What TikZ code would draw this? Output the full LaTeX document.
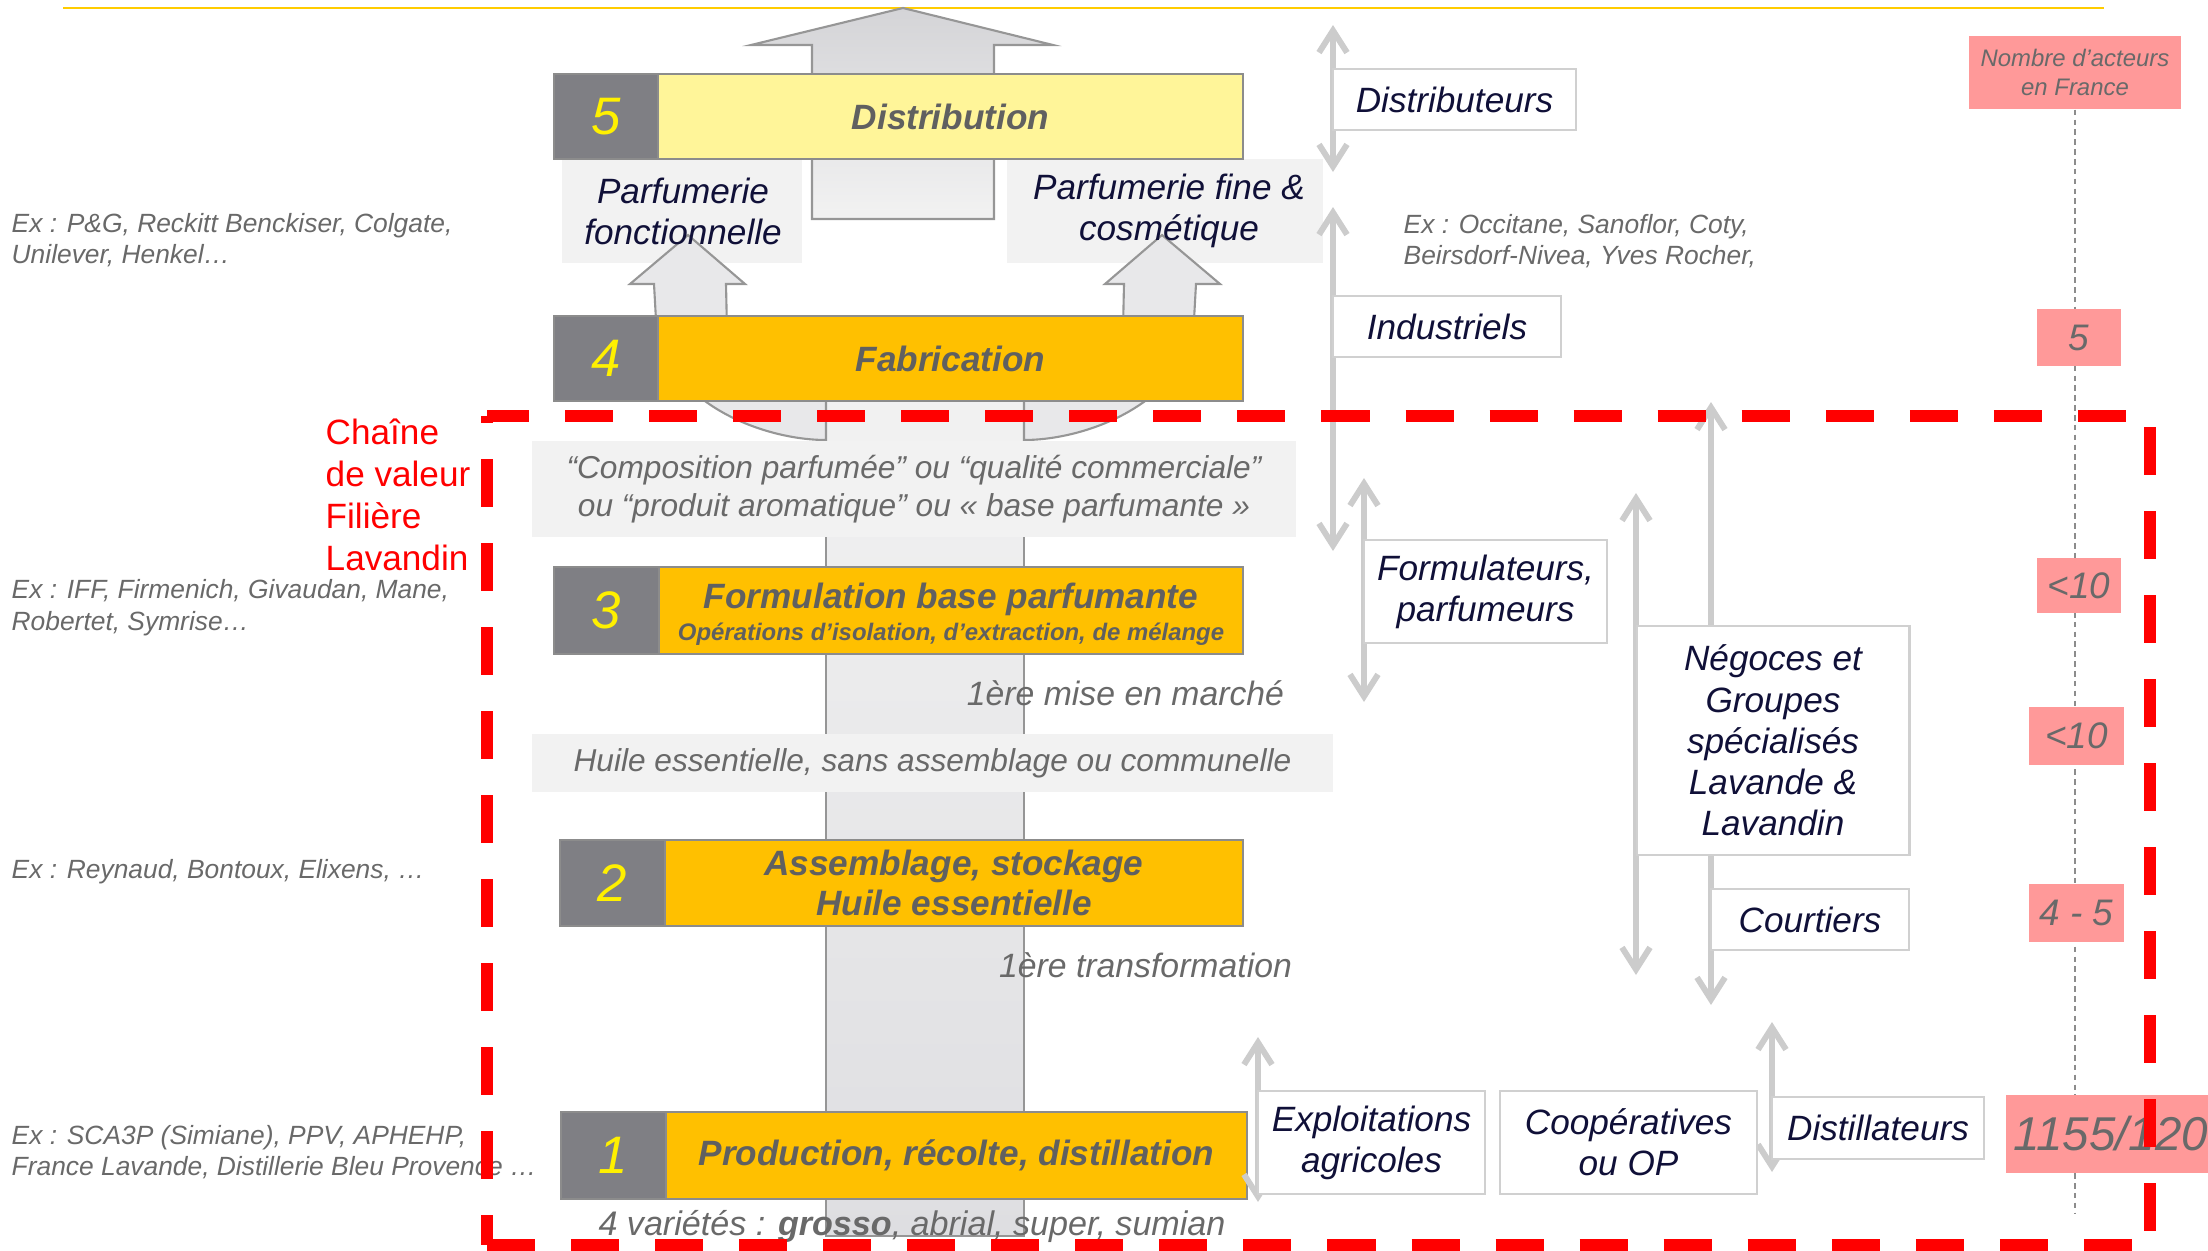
\documentclass[tikz,border=0pt]{standalone}
\usepackage{fontspec}
\setmainfont{Liberation Sans}
\usepackage{xcolor}
\usetikzlibrary{arrows.meta}

\definecolor{topyellow}{RGB}{255,204,0}
\definecolor{stageorange}{RGB}{255,192,0}
\definecolor{stageyellow}{RGB}{255,245,153}
\definecolor{numgray}{RGB}{127,127,132}
\definecolor{digityellow}{RGB}{255,240,0}
\definecolor{labelgray}{RGB}{96,96,96}
\definecolor{notegray}{RGB}{105,105,105}
\definecolor{paleback}{RGB}{242,242,242}
\definecolor{actornavy}{RGB}{16,16,56}
\definecolor{actorline}{RGB}{208,208,208}
\definecolor{flowline}{RGB}{204,204,204}
\definecolor{countpink}{RGB}{255,153,153}
\definecolor{arrowedge}{RGB}{150,150,150}
\definecolor{boxedge}{RGB}{140,140,140}
\definecolor{chainred}{RGB}{255,0,0}
\definecolor{flowlight}{RGB}{242,242,242}
\definecolor{flowmid}{RGB}{222,222,225}
\definecolor{flowdark}{RGB}{212,212,215}

\begin{document}
\begin{tikzpicture}[x=0.01cm, y=-0.01cm,
    paleband/.style={fill=paleback, inner sep=0pt},
    navytext/.style={text=actornavy, font=\fontsize{10}{11.7}\selectfont\itshape, align=center, inner sep=0pt},
    actor/.style={navytext, draw=actorline, fill=white, line width=0.8pt},
    numsq/.style={fill=numgray, draw=boxedge, line width=0.5pt, inner sep=0pt, text=digityellow, font=\fontsize{15}{18}\selectfont\itshape},
    stagebox/.style={draw=boxedge, line width=0.5pt, inner sep=0pt, text=labelgray, font=\fontsize{10}{11.4}\selectfont\bfseries\itshape, align=center},
    graynote/.style={text=notegray, font=\fontsize{9}{10.8}\selectfont\itshape, inner sep=0pt, align=center},
    exnote/.style={text=notegray, font=\fontsize{7.5}{9}\selectfont\itshape, align=left, anchor=west, inner sep=0pt},
    countbox/.style={fill=countpink, inner sep=0pt, text=notegray, font=\fontsize{10.5}{12}\selectfont\itshape},
    flow/.style={draw=flowline, line width=1.7pt, >={Straight Barb[length=2.2mm,width=2.8mm]}, <->},
    bigarrow/.style={draw=arrowedge, line width=0.6pt},
    redframe/.style={draw=chainred, line width=3.3pt, dash pattern=on 0.48cm off 0.36cm}
]
\clip (0,0) rectangle (2208,1251);

% === TOP RULE ===
\draw[topyellow, line width=0.85pt] (63,8) -- (2104,8);

% === PALE BACKGROUNDS UNDER STAGE 5 ===
\node[paleband, minimum width=2.40cm, minimum height=1.04cm] (pfoncbg) at (682,211) {};
\node[paleband, minimum width=3.16cm, minimum height=1.04cm] (pfinebg) at (1165,211) {};

% === BIG GRAY FLOW ARROWS ===
\draw[bigarrow, top color=flowdark, bottom color=flowlight] (812,219) -- (812,45) -- (751,45) -- (903,8) -- (1053,45) -- (994,45) -- (994,219) -- cycle;
\draw[bigarrow, top color=flowlight, bottom color=flowmid] (826,380) rectangle (1024,1236);
% left branch, then the same shape mirrored
\draw[bigarrow, fill=flowmid!70!white] (688,235) -- (745,284) -- (726,284) -- (727,330) .. controls (730,372) and (775,388) .. (826,388) -- (826,440) .. controls (760,440) and (662,400) .. (656,320) -- (654,284) -- (630,284) -- cycle;
\begin{scope}[shift={(1850,0)}, xscale=-1]
\draw[bigarrow, fill=flowmid!70!white] (688,235) -- (745,284) -- (726,284) -- (727,330) .. controls (730,372) and (775,388) .. (826,388) -- (826,440) .. controls (760,440) and (662,400) .. (656,320) -- (654,284) -- (630,284) -- cycle;
\end{scope}

% === STAGE 5 ===
\node[numsq, minimum width=1.04cm, minimum height=0.85cm] (n5) at (606,116.5) {5};
\node[stagebox, fill=stageyellow, minimum width=5.85cm, minimum height=0.85cm] (s5) at (950.5,116.5) {Distribution};
\node[navytext] (pfonc) at (683,211) {Parfumerie\\fonctionnelle};
\node[navytext] (pfine) at (1169,211) {Parfumerie fine \&\\cosmétique};

% === STAGE 4 ===
\node[numsq, minimum width=1.04cm, minimum height=0.85cm] (n4) at (606,358.5) {4};
\node[stagebox, fill=stageorange, minimum width=5.85cm, minimum height=0.85cm] (s4) at (950.5,358.5) {Fabrication};

\node[paleband, graynote, minimum width=7.64cm, minimum height=0.96cm] (compo) at (914,489) {“Composition parfumée” ou “qualité commerciale”\\ou “produit aromatique” ou « base parfumante »};

% === STAGE 3 ===
\node[numsq, minimum width=1.05cm, minimum height=0.87cm] (n3) at (606.5,610.5) {3};
\node[stagebox, fill=stageorange, minimum width=5.84cm, minimum height=0.87cm] (s3) at (951,610.5) {};
\node[stagebox, draw=none] (s3title) at (951,599) {Formulation base parfumante};
\node[stagebox, draw=none, font=\fontsize{6.8}{8}\selectfont\bfseries\itshape] (s3sub) at (951,634) {Opérations d’isolation, d’extraction, de mélange};
\node[graynote, font=\fontsize{9.6}{11}\selectfont\itshape] (mise) at (1125.5,693) {1ère mise en marché};

\node[paleband, graynote, minimum width=8.01cm, minimum height=0.58cm] (huile) at (932.5,763) {Huile essentielle, sans assemblage ou communelle};

% === STAGE 2 ===
\node[numsq, minimum width=1.05cm, minimum height=0.86cm] (n2) at (612.5,883) {2};
\node[stagebox, fill=stageorange, minimum width=5.78cm, minimum height=0.86cm] (s2) at (954,883) {Assemblage, stockage\\Huile essentielle};
\node[graynote, font=\fontsize{9.6}{11}\selectfont\itshape] (transfo) at (1145.5,965) {1ère transformation};

% === STAGE 1 ===
\node[numsq, minimum width=1.05cm, minimum height=0.87cm] (n1) at (613.5,1155.5) {1};
\node[stagebox, fill=stageorange, minimum width=5.81cm, minimum height=0.87cm] (s1) at (956.5,1155.5) {Production, récolte, distillation};
\node[graynote, font=\fontsize{9.7}{11}\selectfont\itshape] (variete) at (912,1226) {4 variétés : \textbf{grosso}, abrial, super, sumian};

% === ACTORS: double arrows ===
\coordinate (a1t) at (1333,25);   \coordinate (a1b) at (1333,172);
\coordinate (a2t) at (1333,207);  \coordinate (a2b) at (1333,551);
\coordinate (a3t) at (1364,478);  \coordinate (a3b) at (1364,702);
\coordinate (a4t) at (1636,493);  \coordinate (a4b) at (1636,975);
\coordinate (a5t) at (1711,402);  \coordinate (a5b) at (1711,1005);
\coordinate (a6t) at (1258,1037); \coordinate (a6b) at (1258,1202);
\coordinate (a7t) at (1772,1022); \coordinate (a7b) at (1772,1172);
\foreach \a in {a1,a2,a3,a4,a5,a6,a7}
  \draw[flow] (\a t) -- (\a b);

% === ACTORS: boxes ===
\node[actor, minimum width=2.43cm, minimum height=0.61cm] (distrib) at (1454.5,99.5) {Distributeurs};
\node[actor, minimum width=2.28cm, minimum height=0.61cm] (indus) at (1447,326.5) {Industriels};
\node[actor, minimum width=2.43cm, minimum height=1.03cm] (formul) at (1485.5,591.5) {Formulateurs,\\parfumeurs};
\node[actor, minimum width=2.72cm, minimum height=2.29cm] (negoce) at (1773,740.5) {Négoces et\\Groupes\\spécialisés\\Lavande \&\\Lavandin};
\node[actor, minimum width=1.98cm, minimum height=0.61cm] (courtier) at (1810,919.5) {Courtiers};
\node[actor, minimum width=2.27cm, minimum height=1.03cm] (exploit) at (1371.5,1142.5) {Exploitations\\agricoles};
\node[actor, minimum width=2.57cm, minimum height=1.03cm] (coop) at (1628.5,1142.5) {Coopératives\\ou OP};
\node[actor, minimum width=2.12cm, minimum height=0.62cm] (distil) at (1878,1128) {Distillateurs};

\node[exnote] (exoccit) at (1403,241) {Ex : Occitane, Sanoflor, Coty,\\Beirsdorf-Nivea, Yves Rocher,};

% === COUNT COLUMN ===
\node[countbox, font=\fontsize{6.8}{8.2}\selectfont\itshape, align=center, minimum width=2.12cm, minimum height=0.73cm] (nombre) at (2075,72.5) {Nombre d’acteurs\\en France};
\coordinate (countend) at (2075,1213);
\draw[boxedge, line width=0.45pt, dash pattern=on 1.6pt off 1.2pt] (nombre.south) -- (countend);
\node[countbox, minimum width=0.84cm, minimum height=0.57cm] (c5) at (2079,337.5) {5};
\node[countbox, minimum width=0.84cm, minimum height=0.55cm] (c3) at (2079,585.5) {<10};
\node[countbox, minimum width=0.95cm, minimum height=0.58cm] (c2n) at (2076.5,736) {<10};
\node[countbox, minimum width=0.95cm, minimum height=0.58cm] (c2) at (2076.5,913) {4 - 5};
\node[countbox, minimum width=2.30cm, minimum height=0.78cm] (c1box) at (2121,1134) {};
\node[text=notegray, font=\fontsize{13.5}{15}\selectfont\itshape, anchor=west, inner sep=0pt] (c1) at (2013,1134) {1155/1200};

% === LEFT NOTES ===
\node[exnote] (expg) at (11,240) {Ex : P\&G, Reckitt Benckiser, Colgate,\\Unilever, Henkel…};
\node[exnote] (exiff) at (11,607.5) {Ex : IFF, Firmenich, Givaudan, Mane,\\Robertet, Symrise…};
\node[exnote] (exrey) at (11,872) {Ex : Reynaud, Bontoux, Elixens, …};
\node[exnote] (exsca) at (11,1152) {Ex : SCA3P (Simiane), PPV, APHEHP,\\France Lavande, Distillerie Bleu Provence …};
\node[text=chainred, font=\fontsize{10}{12}\selectfont, align=left, anchor=west, inner sep=0pt] (chaine) at (325,495) {Chaîne\\de valeur\\Filière\\Lavandin};

% === RED FRAME: value chain ===
\draw[redframe, dash phase=0.06cm] (487,416) -- (2150,416);
\draw[redframe, dash phase=0.41cm] (487,416) -- (487,1245);
\draw[redframe, dash phase=0.73cm] (2150,416) -- (2150,1245);
\draw[redframe] (487,1245) -- (2150,1245);

\end{tikzpicture}
\end{document}
